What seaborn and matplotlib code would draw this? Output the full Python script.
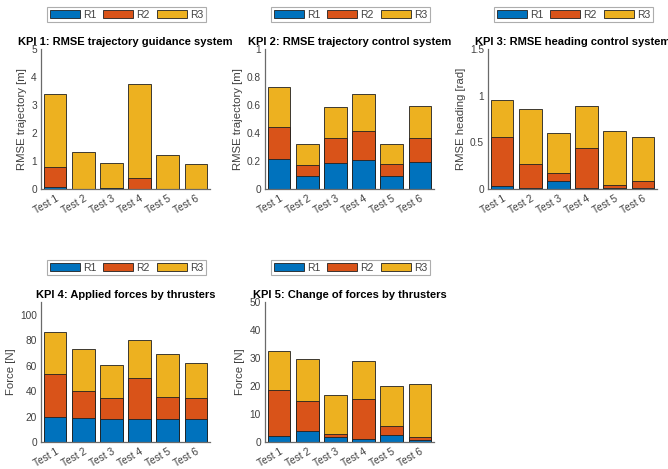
import matplotlib
matplotlib.use("Agg")
import matplotlib.pyplot as plt
from matplotlib.patches import Patch
from matplotlib.ticker import FuncFormatter
import numpy as np
import seaborn as sns

# Test cases and series
tests = ["Test 1", "Test 2", "Test 3", "Test 4", "Test 5", "Test 6"]
series = ["R1", "R2", "R3"]
colors = ["#0072BD", "#D95319", "#EDB120"]

# KPI 1: RMSE trajectory guidance system [m]
kpi1_r1 = [0.06, 0.0, 0.02, 0.01, 0.0, 0.0]
kpi1_r2 = [0.74, 0.0, 0.0, 0.38, 0.0, 0.0]
kpi1_r3 = [2.60, 1.32, 0.92, 3.36, 1.21, 0.88]

# KPI 2: RMSE trajectory control system [m]
kpi2_r1 = [0.214, 0.090, 0.188, 0.205, 0.090, 0.193]
kpi2_r2 = [0.229, 0.084, 0.176, 0.209, 0.086, 0.171]
kpi2_r3 = [0.283, 0.147, 0.219, 0.265, 0.145, 0.226]

# KPI 3: RMSE heading control system [rad]
kpi3_r1 = [0.036, 0.010, 0.083, 0.010, 0.010, 0.010]
kpi3_r2 = [0.517, 0.263, 0.093, 0.428, 0.037, 0.073]
kpi3_r3 = [0.398, 0.588, 0.420, 0.448, 0.570, 0.470]

# KPI 4: Applied forces by thrusters [N]
kpi4_r1 = [19.4, 19.1, 18.3, 18.3, 18.3, 18.3]
kpi4_r2 = [33.7, 20.7, 16.0, 31.7, 16.8, 16.0]
kpi4_r3 = [33.0, 33.0, 26.4, 30.1, 33.7, 28.0]

# KPI 5: Change of forces by thrusters [N]
kpi5_r1 = [2.3, 3.8, 1.7, 1.2, 2.4, 0.8]
kpi5_r2 = [16.1, 10.9, 1.0, 14.1, 3.3, 0.9]
kpi5_r3 = [14.2, 14.9, 14.0, 13.6, 14.2, 19.1]

panels = [
    ("KPI 1: RMSE trajectory guidance system", "RMSE trajectory [m]",
     (kpi1_r1, kpi1_r2, kpi1_r3), (0, 5), np.arange(0, 5.01, 1)),
    ("KPI 2: RMSE trajectory control system", "RMSE trajectory [m]",
     (kpi2_r1, kpi2_r2, kpi2_r3), (0, 1), np.arange(0, 1.01, 0.2)),
    ("KPI 3: RMSE heading control system", "RMSE heading [rad]",
     (kpi3_r1, kpi3_r2, kpi3_r3), (0, 1.5), np.arange(0, 1.51, 0.5)),
    ("KPI 4: Applied forces by thrusters", "Force [N]",
     (kpi4_r1, kpi4_r2, kpi4_r3), (0, 110), np.arange(0, 101, 20)),
    ("KPI 5: Change of forces by thrusters", "Force [N]",
     (kpi5_r1, kpi5_r2, kpi5_r3), (0, 50), np.arange(0, 51, 10)),
]

sns.set_style("white")
plt.rcParams["font.family"] = ["Liberation Sans", "DejaVu Sans"]

W, H = 668, 469
fig = plt.figure(figsize=(W / 100, H / 100), dpi=100)

# axes boxes in pixels: (left, top, width, height)
boxes = [(41, 49, 169, 140), (265, 49, 169, 140), (488, 49, 169, 140),
         (41, 302, 169, 140), (265, 302, 169, 140)]

axis_col = "#6a6a6a"
text_col = "#404040"

for (title, ylabel, (r1, r2, r3), ylim, yticks), (l, t, w, h) in zip(panels, boxes):
    ax = fig.add_axes([l / W, 1 - (t + h) / H, w / W, h / H])
    r1 = np.asarray(r1); r2 = np.asarray(r2); r3 = np.asarray(r3)
    layers = [r1 + r2 + r3, r1 + r2, r1]
    for vals, c in zip(layers, colors[::-1]):
        sns.barplot(x=tests, y=vals, color=c, saturation=1, width=0.8,
                    edgecolor="#202020", linewidth=0.6, errorbar=None, ax=ax)
    ax.set_ylim(*ylim)
    ax.set_yticks(yticks)
    ax.yaxis.set_major_formatter(FuncFormatter(lambda v, p: f"{v:g}"))
    ax.set_xlim(-0.5, 5.5)
    ax.set_xlabel("")
    ax.set_ylabel(ylabel, fontsize=8.2, color=text_col, labelpad=3)
    ax.set_title(title, fontsize=8, fontweight="bold", pad=3, color="black")
    for s in ("top", "right"):
        ax.spines[s].set_visible(False)
    for s in ("left", "bottom"):
        ax.spines[s].set_color(axis_col)
        ax.spines[s].set_linewidth(0.9)
    ax.tick_params(axis="y", direction="in", length=3, width=0.6, color=axis_col,
                   labelsize=7.3, labelcolor=text_col, pad=3)
    ax.tick_params(axis="x", direction="in", length=0, labelsize=7.3,
                   labelcolor=text_col, pad=3)
    for lab in ax.get_xticklabels():
        lab.set_rotation(30)
        lab.set_ha("right")
        lab.set_rotation_mode("anchor")
    handles = [Patch(facecolor=c, edgecolor="#202020", linewidth=0.6, label=s)
               for s, c in zip(series, colors)]
    leg = ax.legend(handles=handles, ncol=3, loc="center",
                    bbox_to_anchor=(0.036, 1.19, 0.94, 0.11), mode="expand",
                    fontsize=7.5, frameon=True, fancybox=False,
                    handlelength=2.9, handleheight=0.85, handletextpad=0.3,
                    columnspacing=0.6, borderpad=0.25, borderaxespad=0)
    leg.get_frame().set_edgecolor("#999999")
    leg.get_frame().set_linewidth(0.8)
    for txt in leg.get_texts():
        txt.set_color(text_col)

fig.savefig("out.png", dpi=100, facecolor="white")
